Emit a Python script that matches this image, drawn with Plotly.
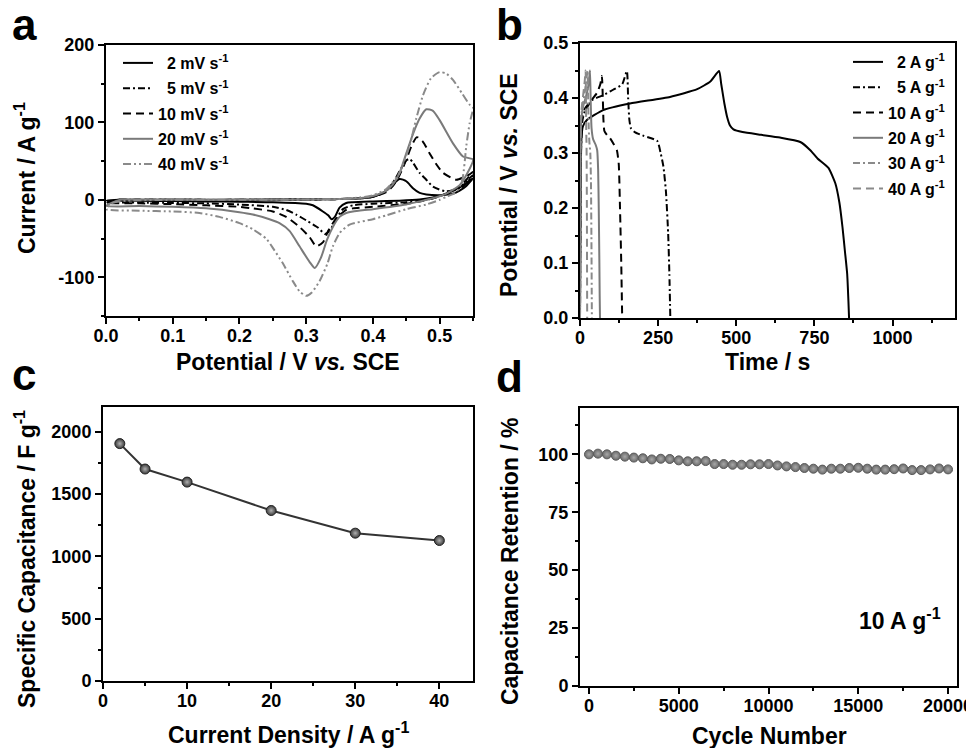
import plotly.graph_objects as go

FONT = "Liberation Sans"
NB = "\u00a0\u00a0"

# ---------------- Panel a: CV curves (potential V, current A/g) ----------------
cv_labels = [NB + "2 mV s<sup>-1</sup>", NB + "5 mV s<sup>-1</sup>", "10 mV s<sup>-1</sup>",
             "20 mV s<sup>-1</sup>", "40 mV s<sup>-1</sup>"]

cv2_v = [0.0, 0.02, 0.05, 0.1, 0.15, 0.2, 0.25, 0.3, 0.35, 0.38, 0.40, 0.41, 0.42, 0.43, 0.44, 0.45,
         0.46, 0.47, 0.48, 0.50, 0.52, 0.53, 0.54, 0.55,
         0.54, 0.53, 0.51, 0.49, 0.47, 0.44, 0.40, 0.37, 0.36, 0.35, 0.343, 0.338, 0.333, 0.325,
         0.31, 0.30, 0.25, 0.2, 0.15, 0.1, 0.05, 0.0]
cv2_i = [-1, 0, 0, 0, 0, 0, 0.3, 0.5, 1, 2, 4, 7, 12, 20, 27, 24,
         15, 9, 7, 6, 8, 12, 18, 28,
         22, 16, 8, 3, 0.5, -1, -2, -3, -4, -10, -22, -25, -20, -15,
         -7, -5, -3, -2.5, -2, -1.5, -1.2, -1]

cv5_v = [0.0, 0.02, 0.05, 0.1, 0.2, 0.3, 0.35, 0.38, 0.40, 0.41, 0.42, 0.43, 0.44, 0.45, 0.455,
         0.46, 0.47, 0.48, 0.49, 0.51, 0.535, 0.55,
         0.54, 0.53, 0.51, 0.49, 0.47, 0.45, 0.40, 0.37, 0.355, 0.345, 0.335, 0.328, 0.318,
         0.303, 0.285, 0.27, 0.25, 0.2, 0.15, 0.1, 0.05, 0.0]
cv5_i = [-3, 0, 0, 0, 0, 0.5, 1, 2, 4, 7, 12, 22, 37, 51, 53,
         48, 35, 26, 17, 11, 17, 32,
         24, 16, 8, 2, -1, -3, -5, -7, -12, -25, -40, -44, -36,
         -28, -19, -13, -9, -6, -4.5, -4, -3.5, -3]

cv10_v = [0.0, 0.02, 0.05, 0.1, 0.2, 0.3, 0.35, 0.38, 0.40, 0.42, 0.43, 0.44, 0.45, 0.458, 0.466,
          0.475, 0.485, 0.495, 0.505, 0.525, 0.545, 0.55,
          0.54, 0.53, 0.51, 0.49, 0.47, 0.45, 0.40, 0.37, 0.36, 0.345, 0.333, 0.325, 0.315,
          0.305, 0.29, 0.27, 0.25, 0.22, 0.2, 0.15, 0.1, 0.05, 0.0]
cv10_i = [-4, 0, 0, 0, 0, 0.5, 1, 2, 4, 10, 18, 32, 52, 70, 81,
          75, 60, 46, 35, 26, 33, 36,
          26, 17, 8, 2, -2, -5, -9, -11, -13, -24, -40, -55, -60,
          -48, -35, -22, -15, -11, -9, -7, -5.5, -4.5, -4]

cv20_v = [0.0, 0.02, 0.05, 0.1, 0.2, 0.3, 0.35, 0.38, 0.40, 0.42, 0.43, 0.44, 0.45, 0.46, 0.47,
          0.48, 0.49, 0.50, 0.52, 0.535, 0.55,
          0.54, 0.53, 0.51, 0.49, 0.47, 0.45, 0.40, 0.37, 0.36, 0.35, 0.34, 0.331, 0.322, 0.313,
          0.305, 0.29, 0.275, 0.26, 0.245, 0.22, 0.2, 0.15, 0.1, 0.05, 0.0]
cv20_i = [-8, 0, 0, 0, 0, 0.5, 1, 2, 5, 12, 20, 35, 60, 85, 105,
          117, 115, 103, 73, 56, 52,
          32, 19, 8, 2, -2, -6, -12, -15, -17, -22, -35, -52, -75, -88,
          -80, -60, -40, -30, -25, -19, -16, -11, -9, -8, -8]

cv40_v = [0.0, 0.01, 0.03, 0.1, 0.2, 0.3, 0.35, 0.38, 0.40, 0.42, 0.44, 0.455, 0.465, 0.475,
          0.487, 0.50, 0.51, 0.52, 0.534, 0.545, 0.55,
          0.545, 0.54, 0.534, 0.525, 0.51, 0.50, 0.48, 0.45, 0.42, 0.40, 0.365, 0.35, 0.34, 0.332,
          0.32, 0.308, 0.30, 0.29, 0.28, 0.265, 0.25, 0.24, 0.22, 0.2, 0.17, 0.14, 0.1, 0.05, 0.0]
cv40_i = [-12, -4, -1, 0, 0, 0.5, 1, 3, 6, 14, 35, 70, 105, 135,
          157, 165, 163, 155, 137, 123, 120,
          99, 70, 26, 10, 4, 0, -6, -12, -20, -25, -32, -43, -60, -82,
          -105, -120, -124, -118, -105, -82, -62, -50, -38, -30, -22, -17, -15, -14, -12]

cv_v = [cv2_v, cv5_v, cv10_v, cv20_v, cv40_v]
cv_i = [cv2_i, cv5_i, cv10_i, cv20_i, cv40_i]
cv_colors = ["#000000", "#000000", "#000000", "#7a7a7a", "#8a8a8a"]
cv_dashes = ["solid", "7px,3px,2px,3px", "8px,5px", "solid", "8px,3px,2px,3px,2px,3px"]

# ---------------- Panel b: GCD curves (time s, potential V) ----------------
gcd_labels = [NB + "2 A g<sup>-1</sup>", NB + "5 A g<sup>-1</sup>", "10 A g<sup>-1</sup>",
              "20 A g<sup>-1</sup>", "30 A g<sup>-1</sup>", "40 A g<sup>-1</sup>"]
gcd2_t = [0, 2, 5, 9, 22, 74, 160, 288, 375, 417, 445, 452, 462, 471, 480, 491, 520, 580, 640,
          705, 737, 760, 795, 817, 830, 840, 848, 855, 859, 861]
gcd2_v = [0, 0.25, 0.33, 0.348, 0.36, 0.378, 0.39, 0.402, 0.416, 0.43, 0.449, 0.425, 0.39, 0.365,
          0.35, 0.343, 0.338, 0.333, 0.328, 0.32, 0.305, 0.29, 0.273, 0.245, 0.21, 0.165, 0.12,
          0.08, 0.03, 0]
gcd5_t = [0, 3, 8, 15, 38, 74, 106, 135, 150, 154, 158, 163, 175, 200, 247, 258, 267, 275, 282,
          286, 289]
gcd5_v = [0, 0.3, 0.36, 0.375, 0.396, 0.405, 0.415, 0.425, 0.449, 0.40, 0.36, 0.345, 0.338, 0.332,
          0.322, 0.30, 0.275, 0.23, 0.155, 0.08, 0]
gcd10_t = [0, 2, 5, 15, 35, 55, 65, 70, 73, 75, 78, 86, 96, 108, 118, 124, 128, 132, 135]
gcd10_v = [0, 0.3, 0.36, 0.38, 0.395, 0.41, 0.425, 0.44, 0.40, 0.36, 0.34, 0.333, 0.327, 0.316,
           0.305, 0.28, 0.2, 0.1, 0]
gcd20_t = [0, 1.5, 4, 10, 18, 26, 30, 32, 34, 37, 42, 50, 55, 58, 60, 62, 63, 64]
gcd20_v = [0, 0.3, 0.36, 0.385, 0.40, 0.42, 0.44, 0.45, 0.40, 0.345, 0.325, 0.315, 0.305, 0.27,
           0.2, 0.1, 0.04, 0]
gcd30_t = [0, 1, 3, 8, 14, 20, 24, 26, 28, 30, 33, 35, 36.5, 37.5, 38]
gcd30_v = [0, 0.3, 0.36, 0.385, 0.405, 0.43, 0.45, 0.40, 0.345, 0.32, 0.3, 0.25, 0.15, 0.05, 0]
gcd40_t = [0, 1, 2.5, 6, 10, 15, 18, 19, 20, 21, 22, 22.5, 23]
gcd40_v = [0, 0.3, 0.36, 0.385, 0.405, 0.43, 0.45, 0.40, 0.34, 0.31, 0.2, 0.1, 0]
gcd_t = [gcd2_t, gcd5_t, gcd10_t, gcd20_t, gcd30_t, gcd40_t]
gcd_v = [gcd2_v, gcd5_v, gcd10_v, gcd20_v, gcd30_v, gcd40_v]
gcd_colors = ["#000000", "#000000", "#000000", "#7a7a7a", "#8a8a8a", "#8a8a8a"]
gcd_dashes = ["solid", "7px,3px,2px,3px", "8px,5px", "solid", "7px,3px,2px,3px", "8px,5px"]

# ---------------- Panel c: rate capability ----------------
current_density = [2, 5, 10, 20, 30, 40]
specific_capacitance = [1906, 1702, 1597, 1369, 1187, 1128]

# ---------------- Panel d: cycling stability ----------------
cycle_number = [0, 500, 1000, 1500, 2000, 2500, 3000, 3500, 4000, 4500, 5000, 5500, 6000, 6500,
                7000, 7500, 8000, 8500, 9000, 9500, 10000, 10500, 11000, 11500, 12000, 12500,
                13000, 13500, 14000, 14500, 15000, 15500, 16000, 16500, 17000, 17500, 18000,
                18500, 19000, 19500, 20000]
retention = [100, 100.3, 100, 99.4, 99, 98.6, 98.3, 97.8, 98.1, 98, 97.4, 97, 97, 97.1,
             95.8, 95.8, 95.5, 95.5, 95.7, 95.7, 95.8, 95.2, 94.8, 94.5, 94.1, 93.8,
             93.4, 93.8, 93.8, 94.1, 94.2, 93.8, 93.4, 93.4, 93.6, 93.9, 93.2,
             93.2, 93.5, 93.9, 93.5]

a_yticks = [-100, 0, 100, 200]
a_yticktext = ["-100", "0", "100", "200"]

fig = go.Figure()

for k in range(len(cv_labels)):
    fig.add_trace(go.Scatter(
        x=cv_v[k], y=cv_i[k], mode="lines", name=cv_labels[k],
        line=dict(color=cv_colors[k], width=2, dash=cv_dashes[k], shape="spline", smoothing=0.6),
        xaxis="x", yaxis="y", legend="legend", legendgroup="a%d" % k))

for k in range(len(gcd_labels)):
    fig.add_trace(go.Scatter(
        x=gcd_t[k], y=gcd_v[k], mode="lines", name=gcd_labels[k],
        line=dict(color=gcd_colors[k], width=2, dash=gcd_dashes[k], shape="spline", smoothing=0.5),
        xaxis="x2", yaxis="y2", legend="legend2", legendgroup="b%d" % k))

fig.add_trace(go.Scatter(
    x=current_density, y=specific_capacitance, mode="lines+markers", showlegend=False,
    line=dict(color="#333333", width=2),
    marker=dict(size=10, color="#3a3a3a", line=dict(color="#222222", width=1),
                gradient=dict(type="radial", color="#b0b0b0")),
    xaxis="x3", yaxis="y3"))

fig.add_trace(go.Scatter(
    x=cycle_number, y=retention, mode="markers", showlegend=False,
    marker=dict(size=9, color="#6a6a6a", line=dict(color="#5a5a5a", width=1),
                gradient=dict(type="radial", color="#a8a8a8")),
    xaxis="x4", yaxis="y4"))

tickfont = dict(family=FONT, size=18, color="black", weight="bold")


def ax(domain, rng, dtick, minor_dtick, anchor, **kw):
    d = dict(domain=domain, range=rng, anchor=anchor, showline=True, linecolor="black",
             linewidth=2, mirror=True, ticks="outside", ticklen=6, tickwidth=2, tickcolor="black",
             showgrid=False, zeroline=False, tickfont=tickfont, dtick=dtick, tick0=0,
             automargin=False,
             minor=dict(ticks="outside", ticklen=3, tickwidth=1.5, tickcolor="black",
                        dtick=minor_dtick, tick0=0, showgrid=False))
    d.update(kw)
    return d


# The page body adds an 8 px offset at the top-left, so the figure fills the
# remaining viewport and all reference pixel positions are shifted by OFF.
OFF = 8
W, H = 974 - OFF, 748 - OFF
px = lambda a, b: [(a - OFF) / W, (b - OFF) / W]
py = lambda top, bot: [1 - (bot - OFF) / H, 1 - (top - OFF) / H]

legend_font = dict(family=FONT, size=16, color="black", weight="bold")
fig.update_layout(
    width=W, height=H, margin=dict(l=0, r=0, t=0, b=0, pad=0, autoexpand=False),
    plot_bgcolor="white", paper_bgcolor="white",
    font=dict(family=FONT, color="black"),
    xaxis=ax(px(106, 473), [0, 0.55], 0.1, 0.05, "y", tickformat=".1f", ticklabelstandoff=-4),
    yaxis=ax(py(45, 316), [-150, 200], 100, 50, "x", tickmode="array", tickvals=a_yticks,
             ticktext=a_yticktext),
    xaxis2=ax(px(580, 955), [0, 1200], 250, 125, "y2", ticklabelstandoff=-4),
    yaxis2=ax(py(43, 318), [0, 0.5], 0.1, 0.05, "x2", tickformat=".1f"),
    xaxis3=ax(px(103, 473), [0, 44], 10, 5, "y3", ticklabelstandoff=-4),
    yaxis3=ax(py(407, 681), [0, 2200], 500, 250, "x3"),
    xaxis4=ax(px(580, 957), [-500, 20500], 5000, 2500, "y4", tickformat="d",
              ticklabelstandoff=-4),
    yaxis4=ax(py(408, 686), [0, 120], 25, 12.5, "x4"),
    legend=dict(x=(118 - OFF) / W, y=1 - (46 - OFF) / H, xanchor="left", yanchor="top",
                bgcolor="rgba(0,0,0,0)", font=legend_font, tracegroupgap=1.5, itemwidth=30),
    legend2=dict(x=(848 - OFF) / W, y=1 - (45 - OFF) / H, xanchor="left", yanchor="top",
                 bgcolor="rgba(0,0,0,0)", font=legend_font, tracegroupgap=1.5, itemwidth=30),
)

title_font = dict(family=FONT, size=23, color="black", weight="bold")
letter_font = dict(family=FONT, size=44, color="black", weight="bold")
ann = [
    dict(text="a", x=10, y=25, font=letter_font),
    dict(text="b", x=494, y=24, font=letter_font),
    dict(text="c", x=10, y=374, font=letter_font),
    dict(text="d", x=494, y=376, font=letter_font),
    dict(text="Potential / V <i>vs.</i> SCE", x=288, y=362, font=title_font),
    dict(text="Time / s", x=767, y=362, font=title_font),
    dict(text="Current Density / A g<sup>-1</sup>", x=288, y=733, font=title_font),
    dict(text="Cycle Number", x=769, y=736, font=title_font),
    dict(text="Current / A g<sup>-1</sup>", x=25, y=178, font=title_font, textangle=-90),
    dict(text="Potential / V <i>vs.</i> SCE", x=509, y=185, font=title_font, textangle=-90),
    dict(text="Specific Capacitance / F g<sup>-1</sup>", x=25, y=559, font=title_font, textangle=-90),
    dict(text="Capacitance Retention / %", x=510, y=561, font=title_font, textangle=-90),
    dict(text="10 A g<sup>-1</sup>", x=900, y=619, font=dict(family=FONT, size=23, color="black",
                                                              weight="bold")),
]
for a in ann:
    a.update(xref="paper", yref="paper", showarrow=False, yanchor="middle")
    if a["text"] in ("a", "b", "c", "d"):
        a["xanchor"] = "left"
    else:
        a["xanchor"] = "center"
    a["x"] = (a["x"] - OFF) / W
    a["y"] = 1 - (a["y"] - OFF) / H
fig.update_layout(annotations=ann)

fig.write_html("out.html")
